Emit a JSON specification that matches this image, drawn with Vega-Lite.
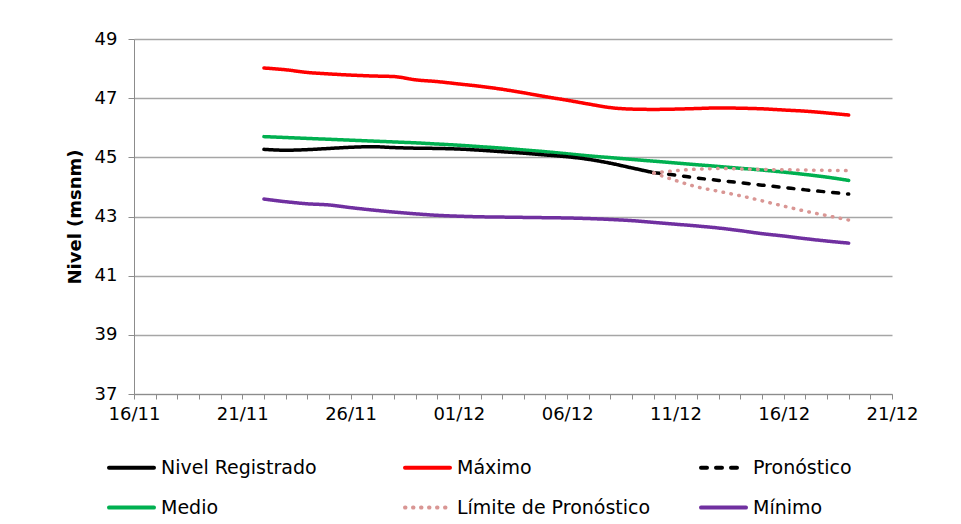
{
  "$schema": "https://vega.github.io/schema/vega-lite/v6.json",
  "width": 758,
  "height": 355,
  "autosize": {"type": "none"},
  "padding": {"left": 134, "top": 39, "right": 69, "bottom": 130},
  "background": "white",
  "config": {
    "view": {"stroke": null},
    "font": "DejaVu Sans",
    "axis": {"labelFont": "DejaVu Sans", "labelColor": "black", "titleColor": "black", "domainColor": "#8c8c8c", "tickColor": "#8c8c8c"}
  },
  "data": {
    "values": [
      {"fecha": "2013-11-22T00:00", "serie": "Medio", "linea": "Medio", "nivel": 45.70},
      {"fecha": "2013-11-23T00:00", "serie": "Medio", "linea": "Medio", "nivel": 45.67},
      {"fecha": "2013-11-24T00:00", "serie": "Medio", "linea": "Medio", "nivel": 45.64},
      {"fecha": "2013-11-25T00:00", "serie": "Medio", "linea": "Medio", "nivel": 45.61},
      {"fecha": "2013-11-26T00:00", "serie": "Medio", "linea": "Medio", "nivel": 45.58},
      {"fecha": "2013-11-27T00:00", "serie": "Medio", "linea": "Medio", "nivel": 45.55},
      {"fecha": "2013-11-28T00:00", "serie": "Medio", "linea": "Medio", "nivel": 45.52},
      {"fecha": "2013-11-29T00:00", "serie": "Medio", "linea": "Medio", "nivel": 45.49},
      {"fecha": "2013-11-30T00:00", "serie": "Medio", "linea": "Medio", "nivel": 45.45},
      {"fecha": "2013-12-01T00:00", "serie": "Medio", "linea": "Medio", "nivel": 45.41},
      {"fecha": "2013-12-02T00:00", "serie": "Medio", "linea": "Medio", "nivel": 45.36},
      {"fecha": "2013-12-03T00:00", "serie": "Medio", "linea": "Medio", "nivel": 45.31},
      {"fecha": "2013-12-04T00:00", "serie": "Medio", "linea": "Medio", "nivel": 45.25},
      {"fecha": "2013-12-05T00:00", "serie": "Medio", "linea": "Medio", "nivel": 45.19},
      {"fecha": "2013-12-06T00:00", "serie": "Medio", "linea": "Medio", "nivel": 45.12},
      {"fecha": "2013-12-07T00:00", "serie": "Medio", "linea": "Medio", "nivel": 45.05},
      {"fecha": "2013-12-08T00:00", "serie": "Medio", "linea": "Medio", "nivel": 44.99},
      {"fecha": "2013-12-09T00:00", "serie": "Medio", "linea": "Medio", "nivel": 44.93},
      {"fecha": "2013-12-10T00:00", "serie": "Medio", "linea": "Medio", "nivel": 44.87},
      {"fecha": "2013-12-11T00:00", "serie": "Medio", "linea": "Medio", "nivel": 44.81},
      {"fecha": "2013-12-12T00:00", "serie": "Medio", "linea": "Medio", "nivel": 44.75},
      {"fecha": "2013-12-13T00:00", "serie": "Medio", "linea": "Medio", "nivel": 44.69},
      {"fecha": "2013-12-14T00:00", "serie": "Medio", "linea": "Medio", "nivel": 44.63},
      {"fecha": "2013-12-15T00:00", "serie": "Medio", "linea": "Medio", "nivel": 44.57},
      {"fecha": "2013-12-16T00:00", "serie": "Medio", "linea": "Medio", "nivel": 44.50},
      {"fecha": "2013-12-17T00:00", "serie": "Medio", "linea": "Medio", "nivel": 44.42},
      {"fecha": "2013-12-18T00:00", "serie": "Medio", "linea": "Medio", "nivel": 44.33},
      {"fecha": "2013-12-19T00:00", "serie": "Medio", "linea": "Medio", "nivel": 44.22},

      {"fecha": "2013-11-22T00:00", "serie": "Máximo", "linea": "Máximo", "nivel": 48.02},
      {"fecha": "2013-11-23T00:00", "serie": "Máximo", "linea": "Máximo", "nivel": 47.96},
      {"fecha": "2013-11-24T00:00", "serie": "Máximo", "linea": "Máximo", "nivel": 47.87},
      {"fecha": "2013-11-25T00:00", "serie": "Máximo", "linea": "Máximo", "nivel": 47.82},
      {"fecha": "2013-11-26T00:00", "serie": "Máximo", "linea": "Máximo", "nivel": 47.78},
      {"fecha": "2013-11-27T00:00", "serie": "Máximo", "linea": "Máximo", "nivel": 47.75},
      {"fecha": "2013-11-28T00:00", "serie": "Máximo", "linea": "Máximo", "nivel": 47.73},
      {"fecha": "2013-11-29T00:00", "serie": "Máximo", "linea": "Máximo", "nivel": 47.62},
      {"fecha": "2013-11-30T00:00", "serie": "Máximo", "linea": "Máximo", "nivel": 47.56},
      {"fecha": "2013-12-01T00:00", "serie": "Máximo", "linea": "Máximo", "nivel": 47.48},
      {"fecha": "2013-12-02T00:00", "serie": "Máximo", "linea": "Máximo", "nivel": 47.40},
      {"fecha": "2013-12-03T00:00", "serie": "Máximo", "linea": "Máximo", "nivel": 47.30},
      {"fecha": "2013-12-04T00:00", "serie": "Máximo", "linea": "Máximo", "nivel": 47.18},
      {"fecha": "2013-12-05T00:00", "serie": "Máximo", "linea": "Máximo", "nivel": 47.05},
      {"fecha": "2013-12-06T00:00", "serie": "Máximo", "linea": "Máximo", "nivel": 46.93},
      {"fecha": "2013-12-07T00:00", "serie": "Máximo", "linea": "Máximo", "nivel": 46.80},
      {"fecha": "2013-12-08T00:00", "serie": "Máximo", "linea": "Máximo", "nivel": 46.68},
      {"fecha": "2013-12-09T00:00", "serie": "Máximo", "linea": "Máximo", "nivel": 46.63},
      {"fecha": "2013-12-10T00:00", "serie": "Máximo", "linea": "Máximo", "nivel": 46.62},
      {"fecha": "2013-12-11T00:00", "serie": "Máximo", "linea": "Máximo", "nivel": 46.63},
      {"fecha": "2013-12-12T00:00", "serie": "Máximo", "linea": "Máximo", "nivel": 46.65},
      {"fecha": "2013-12-13T00:00", "serie": "Máximo", "linea": "Máximo", "nivel": 46.67},
      {"fecha": "2013-12-14T00:00", "serie": "Máximo", "linea": "Máximo", "nivel": 46.66},
      {"fecha": "2013-12-15T00:00", "serie": "Máximo", "linea": "Máximo", "nivel": 46.64},
      {"fecha": "2013-12-16T00:00", "serie": "Máximo", "linea": "Máximo", "nivel": 46.60},
      {"fecha": "2013-12-17T00:00", "serie": "Máximo", "linea": "Máximo", "nivel": 46.56},
      {"fecha": "2013-12-18T00:00", "serie": "Máximo", "linea": "Máximo", "nivel": 46.50},
      {"fecha": "2013-12-19T00:00", "serie": "Máximo", "linea": "Máximo", "nivel": 46.43},

      {"fecha": "2013-11-22T00:00", "serie": "Mínimo", "linea": "Mínimo", "nivel": 43.59},
      {"fecha": "2013-11-23T00:00", "serie": "Mínimo", "linea": "Mínimo", "nivel": 43.50},
      {"fecha": "2013-11-24T00:00", "serie": "Mínimo", "linea": "Mínimo", "nivel": 43.43},
      {"fecha": "2013-11-25T00:00", "serie": "Mínimo", "linea": "Mínimo", "nivel": 43.39},
      {"fecha": "2013-11-26T00:00", "serie": "Mínimo", "linea": "Mínimo", "nivel": 43.30},
      {"fecha": "2013-11-27T00:00", "serie": "Mínimo", "linea": "Mínimo", "nivel": 43.22},
      {"fecha": "2013-11-28T00:00", "serie": "Mínimo", "linea": "Mínimo", "nivel": 43.15},
      {"fecha": "2013-11-29T00:00", "serie": "Mínimo", "linea": "Mínimo", "nivel": 43.09},
      {"fecha": "2013-11-30T00:00", "serie": "Mínimo", "linea": "Mínimo", "nivel": 43.04},
      {"fecha": "2013-12-01T00:00", "serie": "Mínimo", "linea": "Mínimo", "nivel": 43.01},
      {"fecha": "2013-12-02T00:00", "serie": "Mínimo", "linea": "Mínimo", "nivel": 42.99},
      {"fecha": "2013-12-03T00:00", "serie": "Mínimo", "linea": "Mínimo", "nivel": 42.98},
      {"fecha": "2013-12-04T00:00", "serie": "Mínimo", "linea": "Mínimo", "nivel": 42.97},
      {"fecha": "2013-12-05T00:00", "serie": "Mínimo", "linea": "Mínimo", "nivel": 42.96},
      {"fecha": "2013-12-06T00:00", "serie": "Mínimo", "linea": "Mínimo", "nivel": 42.95},
      {"fecha": "2013-12-07T00:00", "serie": "Mínimo", "linea": "Mínimo", "nivel": 42.93},
      {"fecha": "2013-12-08T00:00", "serie": "Mínimo", "linea": "Mínimo", "nivel": 42.90},
      {"fecha": "2013-12-09T00:00", "serie": "Mínimo", "linea": "Mínimo", "nivel": 42.86},
      {"fecha": "2013-12-10T00:00", "serie": "Mínimo", "linea": "Mínimo", "nivel": 42.80},
      {"fecha": "2013-12-11T00:00", "serie": "Mínimo", "linea": "Mínimo", "nivel": 42.74},
      {"fecha": "2013-12-12T00:00", "serie": "Mínimo", "linea": "Mínimo", "nivel": 42.68},
      {"fecha": "2013-12-13T00:00", "serie": "Mínimo", "linea": "Mínimo", "nivel": 42.61},
      {"fecha": "2013-12-14T00:00", "serie": "Mínimo", "linea": "Mínimo", "nivel": 42.52},
      {"fecha": "2013-12-15T00:00", "serie": "Mínimo", "linea": "Mínimo", "nivel": 42.42},
      {"fecha": "2013-12-16T00:00", "serie": "Mínimo", "linea": "Mínimo", "nivel": 42.34},
      {"fecha": "2013-12-17T00:00", "serie": "Mínimo", "linea": "Mínimo", "nivel": 42.25},
      {"fecha": "2013-12-18T00:00", "serie": "Mínimo", "linea": "Mínimo", "nivel": 42.17},
      {"fecha": "2013-12-19T00:00", "serie": "Mínimo", "linea": "Mínimo", "nivel": 42.10},

      {"fecha": "2013-11-22T00:00", "serie": "Nivel Registrado", "linea": "Nivel Registrado", "nivel": 45.27},
      {"fecha": "2013-11-23T00:00", "serie": "Nivel Registrado", "linea": "Nivel Registrado", "nivel": 45.24},
      {"fecha": "2013-11-24T00:00", "serie": "Nivel Registrado", "linea": "Nivel Registrado", "nivel": 45.26},
      {"fecha": "2013-11-25T00:00", "serie": "Nivel Registrado", "linea": "Nivel Registrado", "nivel": 45.30},
      {"fecha": "2013-11-26T00:00", "serie": "Nivel Registrado", "linea": "Nivel Registrado", "nivel": 45.34},
      {"fecha": "2013-11-27T00:00", "serie": "Nivel Registrado", "linea": "Nivel Registrado", "nivel": 45.36},
      {"fecha": "2013-11-28T00:00", "serie": "Nivel Registrado", "linea": "Nivel Registrado", "nivel": 45.33},
      {"fecha": "2013-11-29T00:00", "serie": "Nivel Registrado", "linea": "Nivel Registrado", "nivel": 45.31},
      {"fecha": "2013-11-30T00:00", "serie": "Nivel Registrado", "linea": "Nivel Registrado", "nivel": 45.30},
      {"fecha": "2013-12-01T00:00", "serie": "Nivel Registrado", "linea": "Nivel Registrado", "nivel": 45.28},
      {"fecha": "2013-12-02T00:00", "serie": "Nivel Registrado", "linea": "Nivel Registrado", "nivel": 45.24},
      {"fecha": "2013-12-03T00:00", "serie": "Nivel Registrado", "linea": "Nivel Registrado", "nivel": 45.19},
      {"fecha": "2013-12-04T00:00", "serie": "Nivel Registrado", "linea": "Nivel Registrado", "nivel": 45.14},
      {"fecha": "2013-12-05T00:00", "serie": "Nivel Registrado", "linea": "Nivel Registrado", "nivel": 45.08},
      {"fecha": "2013-12-06T00:00", "serie": "Nivel Registrado", "linea": "Nivel Registrado", "nivel": 45.02},
      {"fecha": "2013-12-07T00:00", "serie": "Nivel Registrado", "linea": "Nivel Registrado", "nivel": 44.93},
      {"fecha": "2013-12-08T00:00", "serie": "Nivel Registrado", "linea": "Nivel Registrado", "nivel": 44.80},
      {"fecha": "2013-12-09T00:00", "serie": "Nivel Registrado", "linea": "Nivel Registrado", "nivel": 44.64},
      {"fecha": "2013-12-10T00:00", "serie": "Nivel Registrado", "linea": "Nivel Registrado", "nivel": 44.48},

      {"fecha": "2013-12-10T00:00", "serie": "Pronóstico", "linea": "Pronóstico", "nivel": 44.48},
      {"fecha": "2013-12-11T00:00", "serie": "Pronóstico", "linea": "Pronóstico", "nivel": 44.40},
      {"fecha": "2013-12-12T00:00", "serie": "Pronóstico", "linea": "Pronóstico", "nivel": 44.30},
      {"fecha": "2013-12-13T00:00", "serie": "Pronóstico", "linea": "Pronóstico", "nivel": 44.22},
      {"fecha": "2013-12-14T00:00", "serie": "Pronóstico", "linea": "Pronóstico", "nivel": 44.14},
      {"fecha": "2013-12-15T00:00", "serie": "Pronóstico", "linea": "Pronóstico", "nivel": 44.06},
      {"fecha": "2013-12-16T00:00", "serie": "Pronóstico", "linea": "Pronóstico", "nivel": 43.98},
      {"fecha": "2013-12-17T00:00", "serie": "Pronóstico", "linea": "Pronóstico", "nivel": 43.90},
      {"fecha": "2013-12-18T00:00", "serie": "Pronóstico", "linea": "Pronóstico", "nivel": 43.83},
      {"fecha": "2013-12-19T00:00", "serie": "Pronóstico", "linea": "Pronóstico", "nivel": 43.76},

      {"fecha": "2013-12-10T00:00", "serie": "Límite de Pronóstico", "linea": "superior", "nivel": 44.47},
      {"fecha": "2013-12-11T00:00", "serie": "Límite de Pronóstico", "linea": "superior", "nivel": 44.55},
      {"fecha": "2013-12-12T00:00", "serie": "Límite de Pronóstico", "linea": "superior", "nivel": 44.60},
      {"fecha": "2013-12-13T00:00", "serie": "Límite de Pronóstico", "linea": "superior", "nivel": 44.62},
      {"fecha": "2013-12-14T00:00", "serie": "Límite de Pronóstico", "linea": "superior", "nivel": 44.61},
      {"fecha": "2013-12-15T00:00", "serie": "Límite de Pronóstico", "linea": "superior", "nivel": 44.59},
      {"fecha": "2013-12-16T00:00", "serie": "Límite de Pronóstico", "linea": "superior", "nivel": 44.58},
      {"fecha": "2013-12-17T00:00", "serie": "Límite de Pronóstico", "linea": "superior", "nivel": 44.57},
      {"fecha": "2013-12-18T00:00", "serie": "Límite de Pronóstico", "linea": "superior", "nivel": 44.56},
      {"fecha": "2013-12-19T00:00", "serie": "Límite de Pronóstico", "linea": "superior", "nivel": 44.55},

      {"fecha": "2013-12-10T00:00", "serie": "Límite de Pronóstico", "linea": "inferior", "nivel": 44.47},
      {"fecha": "2013-12-11T00:00", "serie": "Límite de Pronóstico", "linea": "inferior", "nivel": 44.22},
      {"fecha": "2013-12-12T00:00", "serie": "Límite de Pronóstico", "linea": "inferior", "nivel": 44.00},
      {"fecha": "2013-12-13T00:00", "serie": "Límite de Pronóstico", "linea": "inferior", "nivel": 43.85},
      {"fecha": "2013-12-14T00:00", "serie": "Límite de Pronóstico", "linea": "inferior", "nivel": 43.70},
      {"fecha": "2013-12-15T00:00", "serie": "Límite de Pronóstico", "linea": "inferior", "nivel": 43.53},
      {"fecha": "2013-12-16T00:00", "serie": "Límite de Pronóstico", "linea": "inferior", "nivel": 43.35},
      {"fecha": "2013-12-17T00:00", "serie": "Límite de Pronóstico", "linea": "inferior", "nivel": 43.18},
      {"fecha": "2013-12-18T00:00", "serie": "Límite de Pronóstico", "linea": "inferior", "nivel": 43.03},
      {"fecha": "2013-12-19T00:00", "serie": "Límite de Pronóstico", "linea": "inferior", "nivel": 42.88}
    ]
  },
  "mark": {"type": "line", "interpolate": "monotone", "strokeWidth": 3.5, "strokeCap": "round"},
  "encoding": {
    "x": {
      "field": "fecha",
      "type": "temporal",
      "scale": {"domain": [{"year": 2013, "month": 11, "date": 16}, {"year": 2013, "month": 12, "date": 21}]},
      "axis": {
        "title": null,
        "grid": false,
        "tickCount": {"interval": "day", "step": 1},
        "labelExpr": "round((datum.value - datetime(2013,10,16)) / 864e5) % 5 == 0 ? timeFormat(datum.value, '%d/%m') : ''",
        "labelFontSize": 18,
        "labelPadding": 6,
        "labelOverlap": false,
        "labelFlush": false,
        "tickSize": 5,
        "encode": {
          "ticks": {
            "update": {
              "y2": {"signal": "round((datum.value - datetime(2013,10,16)) / 864e5) % 5 == 0 ? 5 : 3"}
            }
          }
        }
      }
    },
    "y": {
      "field": "nivel",
      "type": "quantitative",
      "scale": {"domain": [37, 49], "nice": false, "zero": false},
      "axis": {
        "title": "Nivel (msnm)",
        "titleFont": "DejaVu Sans",
        "titleFontWeight": "bold",
        "titleFontSize": 18,
        "titlePadding": 10,
        "values": [37, 39, 41, 43, 45, 47, 49],
        "labelFontSize": 18,
        "labelPadding": 11,
        "tickSize": 6,
        "gridColor": "#a6a6a6",
        "gridWidth": 1.3
      }
    },
    "color": {
      "field": "serie",
      "type": "nominal",
      "scale": {
        "domain": ["Nivel Registrado", "Medio", "Máximo", "Límite de Pronóstico", "Pronóstico", "Mínimo"],
        "range": ["#000000", "#00b050", "#ff0000", "#d99694", "#000000", "#7030a0"]
      },
      "legend": {
        "title": null,
        "orient": "none",
        "legendX": -27,
        "legendY": 404,
        "columns": 3,
        "gridAlign": "all",
        "symbolType": "stroke",
        "symbolSize": 2025,
        "symbolStrokeWidth": 4,
        "labelFontSize": 19,
        "labelFont": "DejaVu Sans",
        "labelColor": "black",
        "labelOffset": 5,
        "labelLimit": 400,
        "columnPadding": 42,
        "rowPadding": 5,
        "padding": 0,
        "symbolOpacity": 1,
        "encode": {
          "symbols": {"update": {"strokeCap": {"value": "round"}}}
        }
      }
    },
    "strokeDash": {
      "field": "serie",
      "type": "nominal",
      "scale": {
        "domain": ["Nivel Registrado", "Medio", "Máximo", "Límite de Pronóstico", "Pronóstico", "Mínimo"],
        "range": [[1, 0], [1, 0], [1, 0], [0.5, 7.5], [6, 9], [1, 0]]
      }
    },
    "detail": {"field": "linea"},
    "order": {"field": "fecha", "type": "temporal"}
  }
}
